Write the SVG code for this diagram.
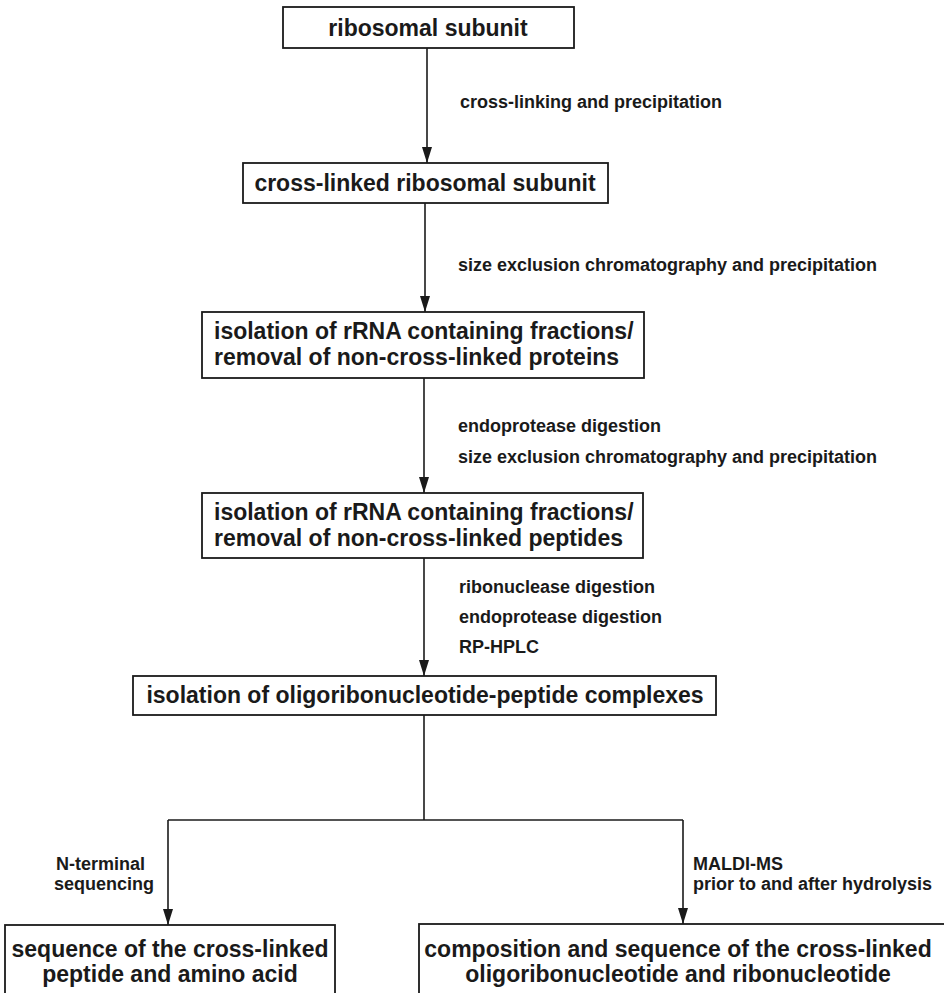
<svg xmlns="http://www.w3.org/2000/svg" width="944" height="993" viewBox="0 0 944 993">
<style>
.box{fill:#fff;stroke:#1a1a1a;stroke-width:1.8}
.t{font-family:"Liberation Sans",Arial,sans-serif;font-weight:bold;font-size:23px;fill:#1a1a1a}
.c{text-anchor:middle}
.l{font-family:"Liberation Sans",Arial,sans-serif;font-weight:bold;font-size:18px;fill:#1a1a1a}
.e{fill:none;stroke:#1a1a1a;stroke-width:1.6}
</style>
<defs>
<marker id="arr" viewBox="0 0 16 10" refX="16" refY="5" markerWidth="16" markerHeight="10" markerUnits="userSpaceOnUse" orient="auto">
<path d="M0,0 L16,5 L0,10 Z" fill="#1a1a1a"/>
</marker>
</defs>
<rect width="944" height="993" fill="#fff"/>
<g id="connectors">
<line class="e" x1="427" y1="48" x2="427" y2="163" marker-end="url(#arr)"/>
<line class="e" x1="425" y1="203" x2="425" y2="312" marker-end="url(#arr)"/>
<line class="e" x1="424" y1="378" x2="424" y2="493" marker-end="url(#arr)"/>
<line class="e" x1="424" y1="558" x2="424" y2="676" marker-end="url(#arr)"/>
<polyline class="e" points="424,715 424,820"/>
<polyline class="e" points="168,820 683,820"/>
<line class="e" x1="168" y1="820" x2="168" y2="925" marker-end="url(#arr)"/>
<line class="e" x1="683" y1="820" x2="683" y2="924" marker-end="url(#arr)"/>
<text class="l" x="460" y="108">cross-linking and precipitation</text>
<text class="l" x="458" y="271">size exclusion chromatography and precipitation</text>
<text class="l" x="458" y="432">endoprotease digestion</text>
<text class="l" x="458" y="463">size exclusion chromatography and precipitation</text>
<text class="l" x="459" y="593">ribonuclease digestion</text>
<text class="l" x="459" y="623">endoprotease digestion</text>
<text class="l" x="459" y="653">RP-HPLC</text>
<text class="l" x="56" y="870">N-terminal</text>
<text class="l" x="54" y="890">sequencing</text>
<text class="l" x="693" y="870">MALDI-MS</text>
<text class="l" x="693" y="890">prior to and after hydrolysis</text>
</g>
<g id="node1">
<rect class="box" x="283" y="7" width="291" height="41"/>
<text class="t c" x="428" y="36">ribosomal subunit</text>
</g>
<g id="node2">
<rect class="box" x="243" y="163" width="365" height="40"/>
<text class="t c" x="425" y="191">cross-linked ribosomal subunit</text>
</g>
<g id="node3">
<rect class="box" x="202" y="312" width="442" height="66"/>
<text class="t" x="214" y="339">isolation of rRNA containing fractions/</text>
<text class="t" x="214" y="365">removal of non-cross-linked proteins</text>
</g>
<g id="node4">
<rect class="box" x="202" y="493" width="441" height="65"/>
<text class="t" x="214" y="520">isolation of rRNA containing fractions/</text>
<text class="t" x="214" y="546">removal of non-cross-linked peptides</text>
</g>
<g id="node5">
<rect class="box" x="133" y="676" width="583" height="39"/>
<text class="t c" x="425" y="703">isolation of oligoribonucleotide-peptide complexes</text>
</g>
<g id="node6">
<rect class="box" x="5" y="925" width="330" height="90"/>
<text class="t c" x="170" y="957">sequence of the cross-linked</text>
<text class="t c" x="170" y="982">peptide and amino acid</text>
</g>
<g id="node7">
<rect class="box" x="419" y="924" width="540" height="90"/>
<text class="t c" x="678" y="957">composition and sequence of the cross-linked</text>
<text class="t c" x="678" y="982">oligoribonucleotide and ribonucleotide</text>
</g>
</svg>
